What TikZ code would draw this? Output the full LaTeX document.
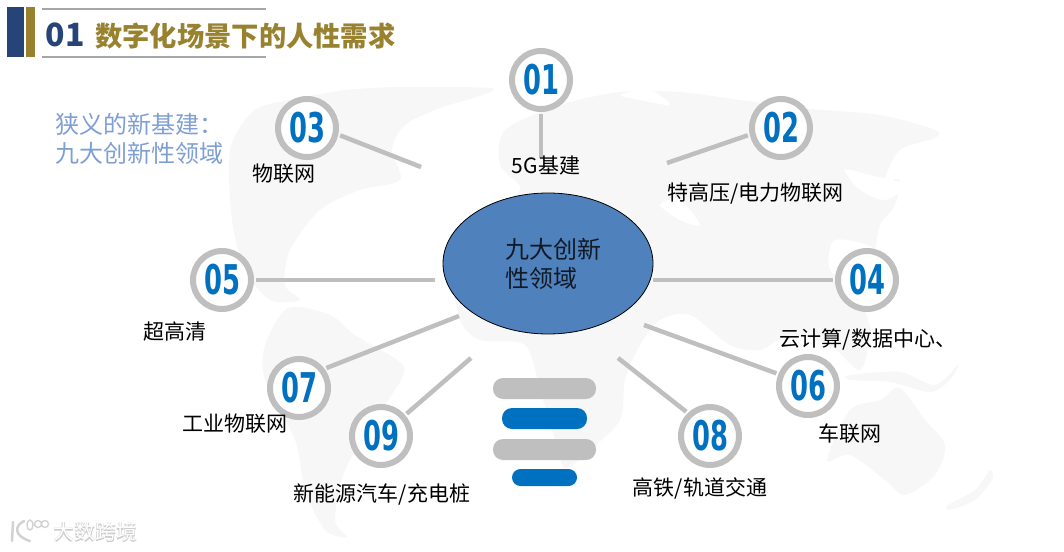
\documentclass[tikz,border=0pt]{standalone}
\usepackage{fontspec}
\setmainfont{Noto Sans CJK SC}
\newfontfamily\digitfont{DejaVu Sans}
\usepackage{xcolor}
\usepackage{tikz}
\usetikzlibrary{arrows.meta,positioning,backgrounds,calc,shapes.geometric}
\definecolor{dsNavy}{HTML}{264478}
\definecolor{dsGold}{HTML}{98822F}
\definecolor{dsRule}{HTML}{A6A6A6}
\definecolor{dsSpoke}{HTML}{BFBFBF}
\definecolor{dsBlue}{HTML}{0070C0}
\definecolor{dsCore}{HTML}{4F81BD}
\definecolor{dsNote}{HTML}{7F9FD4}
\definecolor{dsMap}{HTML}{F7F7F7}
\tikzset{
  % Numbered ring
  numring/.style={circle,minimum size=58pt,inner sep=0pt,
    draw=dsSpoke,line width=6pt,fill=white,text=dsBlue,
    font=\digitfont\bfseries\fontsize{41}{41}\selectfont},
  % Caption under a ring
  caplbl/.style={inner sep=0pt,text=black,
    font=\fontsize{21}{24}\selectfont},
  % Bulb bars
  graybar/.style={fill=dsSpoke,rounded corners=10pt},
  bluebar/.style={fill=dsBlue,rounded corners=10pt},
  % Spokes
  spoke/.style={draw=dsSpoke,line width=4.5pt},
  % Map
  land/.style={fill=dsMap,draw=none},
  sea/.style={fill=white,draw=none},
}
\begin{document}
\begin{tikzpicture}[x=1pt,y=-1pt]
  \useasboundingbox (0,0) rectangle (1064,551);

  % World map behind everything
  \fill[land] plot[smooth cycle,tension=0.5] coordinates {(255,110) (300,98) (345,90) (400,87) (490,88) (480,96) (440,108) (405,125) (392,150) (400,180) (360,190) (320,210) (290,250) (285,285) (300,300) (270,300) (245,270) (232,220) (230,150)};
  \fill[land] plot[smooth cycle,tension=0.5] coordinates {(288,308) (330,315) (355,335) (400,362) (402,378) (375,420) (345,470) (335,520) (347,537) (325,530) (305,490) (295,440) (265,380) (265,345)};
  \fill[land] plot[smooth cycle,tension=0.5] coordinates {(505,130) (560,105) (620,92) (680,92) (740,100) (800,108) (880,115) (935,130) (935,138) (900,150) (885,180) (900,180) (895,205) (880,225) (875,250) (860,290) (870,330) (860,370) (830,345) (790,335) (760,350) (730,345) (690,315) (660,320) (640,345) (625,380) (620,420) (590,450) (565,468) (555,440) (540,390) (525,345) (480,340) (460,320) (455,270) (480,220) (520,190) (500,165)};
  \fill[land] plot[smooth cycle,tension=0.5] coordinates {(827,460) (850,410) (880,400) (900,388) (925,420) (945,445) (935,475) (905,495) (885,480) (850,455)};
  \fill[land] plot[smooth cycle,tension=0.5] coordinates {(850,375) (900,372) (935,385) (958,365) (950,380) (930,392) (890,382) (850,380)};
  \fill[land] plot[smooth cycle,tension=0.5] coordinates {(948,505) (975,490) (990,470) (992,480) (975,500) (950,510)};

  % Seas cut out of the map
  \fill[sea] plot[smooth cycle,tension=0.5] coordinates {(620,95) (650,90) (670,105) (640,100)};
  \fill[sea] plot[smooth cycle,tension=0.5] coordinates {(845,170) (870,175) (905,185) (885,200) (860,190)};
  \fill[sea] plot[smooth cycle,tension=0.5] coordinates {(835,240) (875,250) (860,285) (830,270)};
  \fill[sea] plot[smooth cycle,tension=0.5] coordinates {(660,205) (680,200) (700,225) (680,220)};
  \fill[sea] plot[smooth cycle,tension=0.5] coordinates {(490,170) (510,190) (480,215) (475,190)};

  % Heading
  \fill[dsNavy] (7,7) rectangle (24,57);
  \fill[dsGold] (26,7) rectangle (35,57);
  \draw[dsRule,line width=2pt] (42,9) -- (266,9);
  \draw[dsRule,line width=2pt] (42,57) -- (266,57);
  \node[inner sep=0pt,text=dsNavy,font=\fontsize{32}{32}\selectfont\bfseries] (headnum) at (65,35) {01};
  \node[inner sep=0pt,text=dsGold,font=\fontsize{27.3}{30}\selectfont\bfseries,anchor=west] (headtxt) at (95,36) {数字化场景下的人性需求};

  \node[inner sep=0pt,text=dsNote,align=left,anchor=north west,
    font=\fontsize{24}{29}\selectfont] (note) at (55,113) {狭义的新基建：\\九大创新性领域};

  % Centre
  \node[ellipse,minimum width=210pt,minimum height=141pt,inner sep=0pt,
    draw=black,thick,fill=dsCore] (core) at (548,263.5) {};
  \node[inner sep=0pt,align=left,anchor=north west,text=black!80!dsCore,
    font=\fontsize{24}{29}\selectfont] (coretxt) at (505,238) {九大创新\\性领域};

  % Rings
  \foreach \n/\x/\y in {01/541/80,02/781/128,03/307/128,04/867/280,05/222/280,
    06/808/386,07/299/388,08/710/436,09/381/436} {
    \node[numring] (r\n) at (\x,\y) {\scalebox{0.63}[1]{\n}};
  }

  % Spokes
  \foreach \n/\x/\y/\a in {01/541/158/270,02/667/163/192,03/421/167/-12,04/653/280/180,
    05/435/280/0,06/644/325/158,07/459/316/37,08/618/358/134,09/471/358/41} {
    \coordinate (e\n) at (\x,\y);
    \draw[spoke,shorten <=2pt] (r\n.\a) -- (e\n);
  }

  % Captions
  \node[caplbl] (c03) at (283.5,174) {物联网};
  \node[caplbl] (c01) at (546,166) {5G基建};
  \node[caplbl] (c02) at (755.5,194) {特高压/电力物联网};
  \node[caplbl] (c04) at (868,340) {云计算/数据中心、};
  \node[caplbl] (c05) at (175,331) {超高清};
  \node[caplbl] (c07) at (235,424) {工业物联网};
  \node[caplbl] (c09) at (382,494) {新能源汽车/充电桩};
  \node[caplbl] (c08) at (700,488) {高铁/轨道交通};
  \node[caplbl] (c06) at (850,434) {车联网};

  % Bulb base
  \fill[graybar] (493,378) rectangle (596,399);
  \fill[bluebar] (502,408) rectangle (587,429);
  \fill[graybar] (493,439) rectangle (596,460);
  \fill[bluebar,rounded corners=8.5pt] (512,469) rectangle (577,486);

  % Watermark
  \draw[gray!35,line width=2.5pt,line cap=round] (13,522) -- (12,541);
  \draw[gray!35,line width=2.5pt,line cap=round] (24,521) .. controls (14,526) and (14,536) .. (30,541);
  \draw[gray!35,line width=1.4pt] (30,525) ellipse (3 and 5) (38,524) ellipse (3.5 and 3.5) (45,524) ellipse (3.5 and 3.5);
  \node[inner sep=0pt,text=gray!40,font=\bfseries\fontsize{21}{21}\selectfont] (markb) at (95.5,532) {大数跨境};
  \node[inner sep=0pt,text=white,font=\fontsize{21}{21}\selectfont] (markf) at (95,531.5) {大数跨境};
\end{tikzpicture}
\end{document}
